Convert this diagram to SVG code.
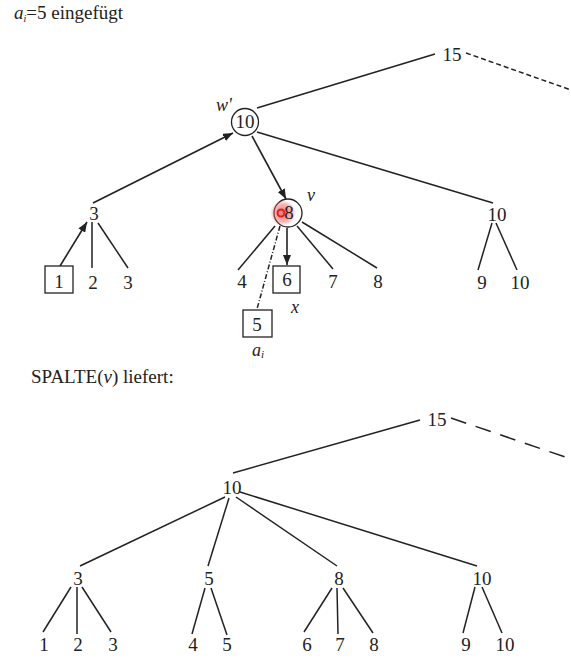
<svg xmlns="http://www.w3.org/2000/svg" width="571" height="667" viewBox="0 0 571 667" font-family="'Liberation Serif', 'Times New Roman', 'DejaVu Serif', serif">
<defs>
<marker id="ah" viewBox="0 0 10 8" refX="10" refY="4" markerWidth="10" markerHeight="8" markerUnits="userSpaceOnUse" orient="auto">
<path d="M0,0 L10,4 L0,8 Z" fill="#222"/>
</marker>
<radialGradient id="glow" cx="0.5" cy="0.5" r="0.5">
<stop offset="0" stop-color="#f04040" stop-opacity="0.75"/>
<stop offset="0.7" stop-color="#f06060" stop-opacity="0.45"/>
<stop offset="1" stop-color="#f08080" stop-opacity="0"/>
</radialGradient>
</defs>
<style>
text{font-family:'Liberation Serif','Times New Roman','DejaVu Serif',serif;fill:#222}
.n{font-size:19px;text-anchor:middle}
.t{font-size:19px}
.l{font-size:18px}
.i{font-style:italic}
.e{stroke:#222;stroke-width:1.5;fill:none}
.a{stroke:#222;stroke-width:1.6;fill:none;marker-end:url(#ah)}
.b{fill:#fff;stroke:#222;stroke-width:1.3}
</style>
<rect width="571" height="667" fill="#fff"/>

<g id="caption-top">
<text class="t" x="14" y="19"><tspan class="i">a</tspan><tspan class="i" font-size="10" dy="3">i</tspan><tspan dy="-3">=5  eingefügt</tspan></text>
</g>
<g id="caption-bottom">
<text class="t" x="31" y="383">SPALTE(<tspan class="i">v</tspan>) liefert:</text>
</g>

<g id="connectors">
<line class="e" x1="435" y1="54" x2="257" y2="108"/>
<line class="e" x1="466" y1="53" x2="571" y2="90" stroke-dasharray="5,3"/>
<line class="a" x1="93" y1="203" x2="233" y2="133"/>
<line class="a" x1="252" y1="136" x2="286" y2="199"/>
<line class="e" x1="257" y1="132" x2="493" y2="203"/>
<line class="a" x1="60" y1="266" x2="87" y2="222"/>
<line class="e" x1="92" y1="222" x2="92" y2="268"/>
<line class="e" x1="98" y1="223" x2="128" y2="268"/>
<line class="e" x1="275" y1="226" x2="238" y2="270"/>
<line class="a" x1="287" y1="228" x2="287" y2="265"/>
<line class="e" x1="297" y1="226" x2="333" y2="269"/>
<line class="e" x1="302" y1="222" x2="377" y2="268"/>
<line class="e" x1="280" y1="226" x2="257" y2="309" stroke-width="1.1" stroke-dasharray="5,2,1,2"/>
<line class="e" x1="492" y1="223" x2="478" y2="270"/>
<line class="e" x1="496" y1="223" x2="517" y2="270"/>
<line class="e" x1="420" y1="420" x2="233" y2="473"/>
<line class="e" x1="451" y1="418" x2="571" y2="459" stroke-dasharray="16,10"/>
<line class="e" x1="225" y1="497" x2="80" y2="566"/>
<line class="e" x1="229" y1="498" x2="208" y2="566"/>
<line class="e" x1="236" y1="497" x2="337" y2="566"/>
<line class="e" x1="240" y1="492" x2="477" y2="566"/>
<line class="e" x1="71" y1="587" x2="43" y2="632"/>
<line class="e" x1="77" y1="587" x2="77" y2="634"/>
<line class="e" x1="82" y1="587" x2="111" y2="632"/>
<line class="e" x1="205" y1="588" x2="192" y2="634"/>
<line class="e" x1="211" y1="588" x2="227" y2="635"/>
<line class="e" x1="332" y1="588" x2="304" y2="632"/>
<line class="e" x1="337" y1="588" x2="338" y2="634"/>
<line class="e" x1="343" y1="588" x2="373" y2="633"/>
<line class="e" x1="475" y1="587" x2="463" y2="633"/>
<line class="e" x1="482" y1="587" x2="502" y2="633"/>
</g>

<g id="t15"><text class="n" x="452" y="61">15</text></g>
<g id="t10w"><circle cx="245" cy="122" r="13.5" class="b"/><text class="n" x="245" y="128">10</text><text class="l i" x="216" y="111">w'</text></g>
<g id="t3"><text class="n" x="94" y="220">3</text></g>
<g id="t1"><rect x="45" y="266" width="28" height="27" class="b"/><text class="n" x="59" y="288">1</text></g>
<g id="t2"><text class="n" x="93" y="289">2</text></g>
<g id="t3b"><text class="n" x="128" y="289">3</text></g>
<g id="t8v"><circle cx="288" cy="213" r="14" class="b"/><circle cx="283" cy="213" r="13" fill="url(#glow)"/><text class="n" x="289" y="219" fill="#555">8</text><circle cx="281" cy="213" r="3.5" fill="none" stroke="#e02020" stroke-width="2"/><text class="l i" x="307" y="201">v</text></g>
<g id="t4"><text class="n" x="242" y="288">4</text></g>
<g id="t6x"><rect x="273" y="266" width="27" height="27" class="b"/><text class="n" x="287" y="286">6</text><text class="l i" x="291" y="313">x</text></g>
<g id="t7"><text class="n" x="333" y="288">7</text></g>
<g id="t8"><text class="n" x="378" y="288">8</text></g>
<g id="t5a"><rect x="243" y="310" width="29" height="27" class="b"/><text class="n" x="257" y="331">5</text><text class="l i" x="252" y="356">a<tspan font-size="11" dy="2">i</tspan></text></g>
<g id="t10r"><text class="n" x="497" y="221">10</text></g>
<g id="t9"><text class="n" x="482" y="289">9</text></g>
<g id="t10b"><text class="n" x="520" y="289">10</text></g>

<g id="b15"><text class="n" x="437" y="426">15</text></g>
<g id="b10"><text class="n" x="232" y="494">10</text></g>
<g id="b3"><text class="n" x="78" y="585">3</text></g>
<g id="b5"><text class="n" x="209" y="585">5</text></g>
<g id="b8"><text class="n" x="339" y="585">8</text></g>
<g id="b10r"><text class="n" x="482" y="585">10</text></g>
<g id="b1"><text class="n" x="44" y="651">1</text></g>
<g id="b2"><text class="n" x="78" y="651">2</text></g>
<g id="b3c"><text class="n" x="113" y="651">3</text></g>
<g id="b4"><text class="n" x="193" y="651">4</text></g>
<g id="b5c"><text class="n" x="227" y="651">5</text></g>
<g id="b6"><text class="n" x="307" y="651">6</text></g>
<g id="b7"><text class="n" x="340" y="651">7</text></g>
<g id="b8c"><text class="n" x="374" y="651">8</text></g>
<g id="b9"><text class="n" x="466" y="651">9</text></g>
<g id="b10c"><text class="n" x="505" y="651">10</text></g>
</svg>
